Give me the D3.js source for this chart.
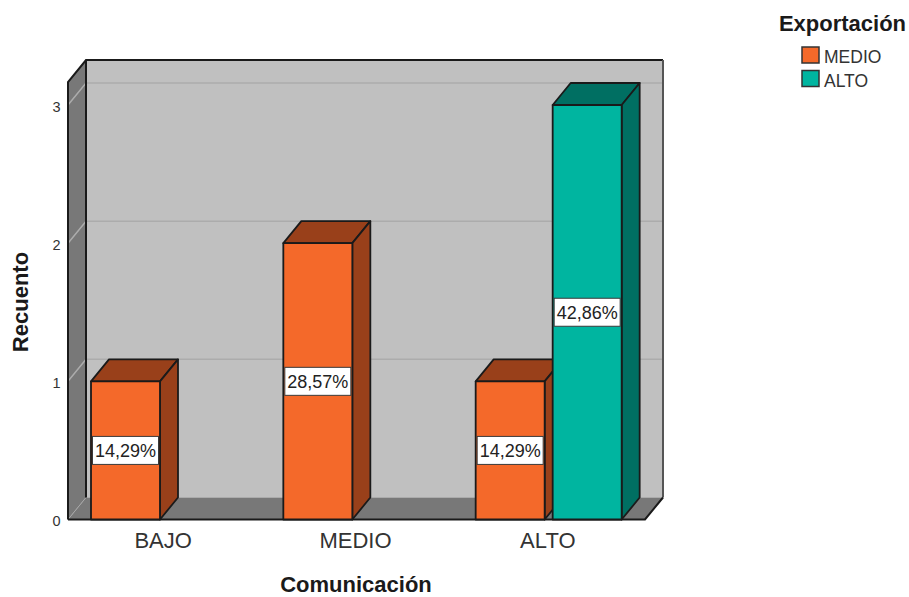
<!DOCTYPE html>
<html>
<head>
<meta charset="utf-8">
<script src="https://cdn.jsdelivr.net/npm/d3@7/dist/d3.min.js"></script>
<style>
html,body{margin:0;padding:0;background:#fff}
svg{display:block}
text{font-family:"Liberation Sans",Arial,sans-serif}
</style>
</head>
<body>
<svg id="chart" width="909" height="597"></svg>
<script>
// Survey counts by communication level, split by export level
const categories = ["BAJO", "MEDIO", "ALTO"];
const seriesNames = ["MEDIO", "ALTO"];
const medioValues = [1, 2, 1];
const altoValues = [null, null, 3];
const medioLabels = ["14,29%", "28,57%", "14,29%"];
const altoLabels = [null, null, "42,86%"];
const yTicks = [0, 1, 2, 3];
const xTitle = "Comunicación";
const yTitle = "Recuento";
const legendTitle = "Exportación";

const faceColors = {MEDIO: {front: "#f4692a", top: "#99401a", side: "#99401a"},
                    ALTO: {front: "#00b5a0", top: "#006f62", side: "#006f62"}};
const ink = "#1a1a1a";

const svg = d3.select("#chart");

// Oblique projection offset of the back plane
const depthX = 18, depthY = -22;

const x = d3.scaleBand().domain(categories).range([68, 645]);
const y = d3.scaleLinear().domain([0, 3]).range([519.5, 105]);
const xInner = d3.scaleBand().domain(seriesNames).range([0, 146]).paddingInner(0.104).paddingOuter(0);

const plotTop = 60, plotLeft = x.range()[0], plotRight = x.range()[1], floor = y(0);

const poly = pts => "M" + pts.map(p => p.join(",")).join("L") + "Z";

// Back wall
svg.append("path")
  .attr("d", poly([[plotLeft + depthX, plotTop], [plotRight + depthX, plotTop],
                   [plotRight + depthX, floor + depthY], [plotLeft + depthX, floor + depthY]]))
  .attr("fill", "#c0c0c0").attr("stroke", "none");

// Left wall
svg.append("path")
  .attr("d", poly([[plotLeft, plotTop - depthY], [plotLeft + depthX, plotTop],
                   [plotLeft + depthX, floor + depthY], [plotLeft, floor]]))
  .attr("fill", "#787878").attr("stroke", "none");

// Floor
svg.append("path")
  .attr("d", poly([[plotLeft, floor], [plotLeft + depthX, floor + depthY],
                   [plotRight + depthX, floor + depthY], [plotRight, floor]]))
  .attr("fill", "#787878").attr("stroke", "none");

// Gridlines wrap from the left wall on to the back wall
const gridTicks = yTicks.filter(t => t > 0);
svg.append("g").selectAll("path").data(gridTicks).join("path")
  .attr("d", t => `M${plotLeft},${y(t)}L${plotLeft + depthX},${y(t) + depthY}L${plotRight + depthX},${y(t) + depthY}`)
  .attr("fill", "none").attr("stroke", "#acacac").attr("stroke-width", 1.5);
svg.append("path")
  .attr("d", `M${plotLeft},${floor}L${plotLeft + depthX},${floor + depthY}`)
  .attr("fill", "none").attr("stroke", "#a8a8a8").attr("stroke-width", 1);

// Frame edges
const edges = svg.append("g").attr("fill", "none").attr("stroke", ink).attr("stroke-width", 2);
edges.append("path").attr("d",
  `M${plotLeft},${floor}L${plotLeft},${plotTop - depthY}L${plotLeft + depthX},${plotTop}L${plotRight + depthX},${plotTop}`);
edges.append("path").attr("d", `M${plotLeft + depthX},${plotTop}L${plotLeft + depthX},${floor + depthY}`);
edges.append("path").attr("d", `M${plotRight + depthX},${plotTop}L${plotRight + depthX},${floor + depthY}`)
  .attr("stroke", "#555");
edges.append("path").attr("d",
  `M${plotRight + depthX},${floor + depthY}L${plotRight},${floor}L${plotLeft},${floor}`);

// Bars as three visible faces of a box, back to front by category and series
const rows = [];
categories.forEach((c, i) => {
  seriesNames.forEach((s, j) => {
    const value = (j === 0 ? medioValues : altoValues)[i];
    const label = (j === 0 ? medioLabels : altoLabels)[i];
    if (value !== null) rows.push({category: c, series: s, value, label});
  });
});

const barX = d => x(d.category) + 23 + xInner(d.series);
const barW = xInner.bandwidth();

const bars = svg.append("g").selectAll("g").data(rows).join("g")
  .attr("stroke", ink).attr("stroke-width", 1.8).attr("stroke-linejoin", "round");

bars.append("path")
  .attr("d", d => {
    const l = barX(d), r = l + barW, t = y(d.value);
    return poly([[l, t], [l + depthX, t + depthY], [r + depthX, t + depthY], [r, t]]);
  })
  .attr("fill", d => faceColors[d.series].top);
bars.append("path")
  .attr("d", d => {
    const r = barX(d) + barW, t = y(d.value);
    return poly([[r, t], [r + depthX, t + depthY], [r + depthX, floor + depthY], [r, floor]]);
  })
  .attr("fill", d => faceColors[d.series].side);
bars.append("rect")
  .attr("x", barX).attr("y", d => y(d.value))
  .attr("width", barW).attr("height", d => floor - y(d.value))
  .attr("fill", d => faceColors[d.series].front);

// Percentage tags centred on each bar
const tags = svg.append("g").selectAll("g").data(rows).join("g")
  .attr("transform", d => `translate(${barX(d) + barW / 2},${(y(d.value) + floor) / 2})`);
tags.append("rect")
  .attr("x", -33).attr("y", -14).attr("width", 66).attr("height", 28)
  .attr("fill", "#fff").attr("stroke", "#3a3a3a").attr("stroke-width", 1);
tags.append("text")
  .attr("text-anchor", "middle").attr("y", 6.5)
  .attr("font-size", 18).attr("fill", "#222")
  .text(d => d.label);

// Value ticks
svg.append("g").selectAll("text").data(yTicks).join("text")
  .attr("x", 60.5).attr("y", t => y(t) + 6.5)
  .attr("text-anchor", "end").attr("font-size", 14.5).attr("fill", "#333")
  .text(t => t);

// Category labels
svg.append("g").selectAll("text").data(categories).join("text")
  .attr("x", c => x(c) + x.bandwidth() / 2 - 1).attr("y", 548)
  .attr("text-anchor", "middle").attr("font-size", 22).attr("fill", "#333")
  .text(c => c);

// Axis titles
svg.append("text")
  .attr("x", 356).attr("y", 592)
  .attr("text-anchor", "middle").attr("font-size", 22).attr("font-weight", "bold").attr("fill", "#1a1a1a")
  .text(xTitle);
svg.append("text")
  .attr("transform", "translate(28,302) rotate(-90)")
  .attr("text-anchor", "middle").attr("font-size", 22).attr("font-weight", "bold").attr("fill", "#1a1a1a")
  .text(yTitle);

// Legend
svg.append("text")
  .attr("x", 842.5).attr("y", 31)
  .attr("text-anchor", "middle").attr("font-size", 22).attr("font-weight", "bold").attr("fill", "#1a1a1a")
  .text(legendTitle);
const legend = svg.append("g").selectAll("g").data(seriesNames).join("g")
  .attr("transform", (s, i) => `translate(802,${47 + i * 23.5})`);
legend.append("rect")
  .attr("width", 17).attr("height", 16)
  .attr("fill", s => faceColors[s].front).attr("stroke", "#333").attr("stroke-width", 1.5);
legend.append("text")
  .attr("x", 22).attr("y", 16)
  .attr("font-size", 17.5).attr("fill", "#333")
  .text(s => s);
</script>
</body>
</html>
